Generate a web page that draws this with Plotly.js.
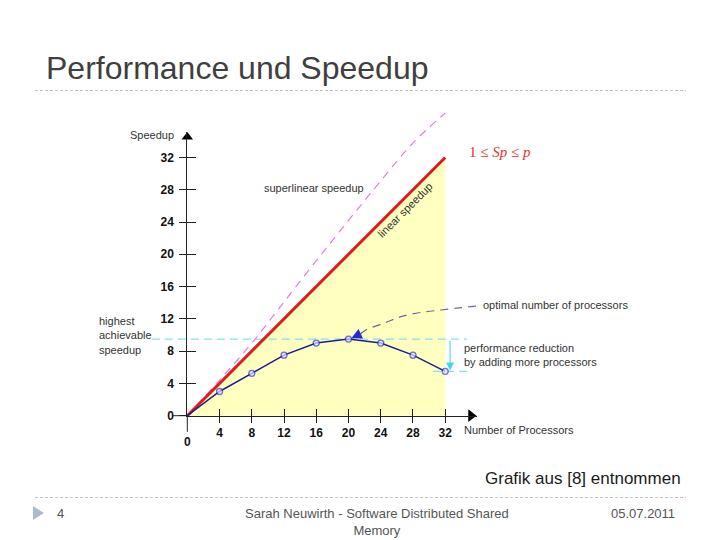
<!DOCTYPE html>
<html>
<head>
<meta charset="utf-8">
<script src="https://cdn.plot.ly/plotly-3.0.1.min.js"></script>
<style>html,body{margin:0;padding:0;background:#fff;}#chart{width:720px;height:540px;}</style>
</head>
<body>
<div id="chart"></div>
<script>
// ---- data ----
const processors = [0, 4, 8, 12, 16, 20, 24, 28, 32];
const speedup = [0, 3.0, 5.25, 7.5, 9.0, 9.5, 9.0, 7.5, 5.5];
const linearX = [0, 32];
const linearY = [0, 32];
const superX = [0, 4, 8, 12, 16, 20, 24, 28, 32];
const superY = [0, 4.4, 9.0, 14.1, 19.2, 24.2, 29.1, 33.8, 37.5];
const optimalX = [21.5, 22.1, 24.5, 26.6, 29.0, 31.5, 34.0, 36.0];
const optimalY = [10.15, 10.6, 11.5, 12.3, 12.8, 13.1, 13.4, 13.6];
const highestSpeedup = 9.5;
const reducedSpeedup = 5.5;
const xTicks = [4, 8, 12, 16, 20, 24, 28, 32];
const yTicks = [0, 4, 8, 12, 16, 20, 24, 28, 32];

// ---- geometry (pixels) ----
const W = 720, H = 540;
const X0 = 187.3, SX = 8.06, Y0 = 415.7, SY = 8.07;
const XMAX = 35.9, YMAX = 35.2;
const px = v => v / W, py = v => 1 - v / H;

const tickFont = {family: 'Liberation Sans, Arial', size: 12, color: '#111', weight: 'bold'};
const labFont = {family: 'Liberation Sans, Arial', size: 11, color: '#333'};

const traces = [
  {x: [0, linearX[1], linearX[1]], y: [0, linearY[1], 0], fill: 'toself', fillcolor: '#ffffc0',
   mode: 'lines', line: {width: 0}, hoverinfo: 'skip', xaxis: 'x', yaxis: 'y'},
  {x: [-4.4, 34.7], y: [highestSpeedup, highestSpeedup], mode: 'lines',
   line: {color: '#7fe3ee', width: 1.3, dash: '8px,5px'}, hoverinfo: 'skip'},
  {x: [30.5, 34.7], y: [reducedSpeedup, reducedSpeedup], mode: 'lines',
   line: {color: '#7fe3ee', width: 1.3, dash: '8px,5px'}, hoverinfo: 'skip'},
  {x: superX, y: superY, mode: 'lines', line: {color: '#e07ce8', width: 1.2, dash: '8px,6px', shape: 'spline'}, hoverinfo: 'skip'},
  {x: linearX, y: linearY, mode: 'lines', line: {color: '#e01a1a', width: 3}, hoverinfo: 'skip'},
  {x: optimalX, y: optimalY, mode: 'lines', line: {color: '#6a6a9a', width: 1.2, dash: '8px,6px', shape: 'spline'}, hoverinfo: 'skip'},
  {x: processors, y: speedup, mode: 'lines+markers', line: {color: '#1c1c96', width: 1.5},
   marker: {size: processors.map(p => p === 0 ? 0 : 6), color: '#e4e4ff', line: {color: '#3030e0', width: 1.3}},
   hoverinfo: 'skip'},
  // axis arrowheads
  {x: [XMAX - 0.7], y: [0], mode: 'markers', marker: {symbol: 'triangle-right', size: 11, color: '#000'}, hoverinfo: 'skip'},
  {x: [0], y: [YMAX - 0.65], mode: 'markers', marker: {symbol: 'triangle-up', size: 10, color: '#000'}, hoverinfo: 'skip'},
  // anchors for tick axes
  {x: [1], y: [1], mode: 'markers', marker: {opacity: 0}, xaxis: 'x2', yaxis: 'y2', hoverinfo: 'skip'},
  {x: [1], y: [1], mode: 'markers', marker: {opacity: 0}, xaxis: 'x3', yaxis: 'y2', hoverinfo: 'skip'},
  {x: [1], y: [1], mode: 'markers', marker: {opacity: 0}, xaxis: 'x2', yaxis: 'y3', hoverinfo: 'skip'}
];

const x2dom = [px(X0), px(X0 + XMAX * SX)];
const y2dom = [1 - Y0 / H, 1 - (Y0 - YMAX * SY) / H];

const ann = [];
function A(o) { ann.push(Object.assign({showarrow: false, font: labFont, xanchor: 'center', yanchor: 'middle'}, o)); }

// slide title
A({xref: 'paper', yref: 'paper', x: px(44), y: py(68), xanchor: 'left',
   text: 'Performance und Speedup', font: {family: 'Liberation Sans, Arial', size: 32, color: '#3f3f3f'}});
// chart labels
A({xref: 'paper', yref: 'paper', x: px(152), y: py(135), text: 'Speedup', font: labFont});
A({xref: 'x', yref: 'y', x: (313.7 - X0) / SX, y: (Y0 - 187.7) / SY, text: 'superlinear speedup'});
A({xref: 'x', yref: 'y', x: (405 - X0) / SX, y: (Y0 - 210) / SY, text: 'linear speedup', textangle: -45});
A({xref: 'x', yref: 'y', x: (499.5 - X0) / SX, y: (Y0 - 152) / SY,
   text: '1 ≤ <i>Sp</i> ≤ <i>p</i>', font: {family: 'Liberation Serif, Times New Roman', size: 15, color: '#dd3333'}});
A({xref: 'paper', yref: 'paper', x: px(97), y: py(335.5), xanchor: 'left', align: 'left',
   text: 'highest<br>achievable<br>speedup'});
A({xref: 'x', yref: 'y', x: (481 - X0) / SX, y: (Y0 - 305) / SY, xanchor: 'left', text: 'optimal number of processors'});
A({xref: 'x', yref: 'y', x: (461.7 - X0) / SX, y: (Y0 - 354.5) / SY, xanchor: 'left', align: 'left',
   text: 'performance reduction<br>by adding more processors'});
A({xref: 'x', yref: 'y', x: (461.7 - X0) / SX, y: (Y0 - 430) / SY, xanchor: 'left', text: 'Number of Processors'});
A({xref: 'x', yref: 'y', x: 0, y: (Y0 - 441.7) / SY, text: '0', font: tickFont});
// arrows
ann.push({xref: 'x', yref: 'y', axref: 'x', ayref: 'y', x: 20.35, y: 9.6, ax: 21.6, ay: 10.2, text: '',
  showarrow: true, arrowhead: 2, arrowsize: 1.4, arrowwidth: 1.5, arrowcolor: '#2a2ad0'});
ann.push({xref: 'x', yref: 'y', axref: 'x', ayref: 'y', x: 32.6, y: reducedSpeedup + 0.1, ax: 32.6, ay: highestSpeedup, text: '',
  showarrow: true, arrowhead: 2, arrowsize: 1.6, arrowwidth: 1, arrowcolor: '#40d8e8'});
// source + footer
A({xref: 'paper', yref: 'paper', x: px(683), y: py(478), xanchor: 'right',
   text: 'Grafik aus [8] entnommen', font: {family: 'Liberation Sans, Arial', size: 17, color: '#1a1a1a'}});
const footFont = {family: 'Liberation Sans, Arial', size: 13, color: '#555'};
A({xref: 'paper', yref: 'paper', x: px(55), y: py(513), xanchor: 'left', text: '4', font: footFont});
A({xref: 'paper', yref: 'paper', x: px(377), y: py(521.5), text: 'Sarah Neuwirth - Software Distributed Shared<br>Memory', font: footFont});
A({xref: 'paper', yref: 'paper', x: px(677), y: py(513), xanchor: 'right', text: '05.07.2011', font: footFont});

const shapes = [
  {type: 'line', xref: 'paper', yref: 'paper', x0: px(35), x1: px(686), y0: py(90.5), y1: py(90.5),
   line: {color: '#c4c4c4', width: 1, dash: '3px,2px'}},
  {type: 'line', xref: 'paper', yref: 'paper', x0: px(35), x1: px(686), y0: py(497.5), y1: py(497.5),
   line: {color: '#c4c4c4', width: 1, dash: '3px,2px'}},
  {type: 'path', xref: 'paper', yref: 'paper',
   path: `M ${px(33)} ${py(506)} L ${px(44)} ${py(513)} L ${px(33)} ${py(520)} Z`,
   fillcolor: '#a9bbcf', line: {width: 0}},
  {type: 'line', xref: 'x', yref: 'y', x0: -1.8, x1: 0, y0: 0, y1: 0, line: {color: '#222', width: 1}},
  {type: 'line', xref: 'x', yref: 'y', x0: 0, x1: 0, y0: 0, y1: -2.0, line: {color: '#222', width: 1}}
];

const layout = {
  width: W, height: H, margin: {l: 0, r: 0, t: 0, b: 0},
  paper_bgcolor: '#fff', plot_bgcolor: 'rgba(0,0,0,0)', showlegend: false,
  font: {family: 'Liberation Sans, Arial', color: '#333'},
  xaxis: {domain: [0, 1], range: [-X0 / SX, (W - X0) / SX], visible: false, fixedrange: true},
  yaxis: {domain: [0, 1], range: [(Y0 - H) / SY, Y0 / SY], visible: false, fixedrange: true},
  xaxis2: {domain: x2dom, range: [0, XMAX], anchor: 'y2', showline: true, linecolor: '#222', linewidth: 1,
    ticks: 'outside', ticklen: 6, tickcolor: '#222', tickvals: xTicks, ticktext: xTicks.map(String),
    tickfont: tickFont, showgrid: false, zeroline: false, fixedrange: true},
  xaxis3: {domain: x2dom, range: [0, XMAX], anchor: 'y2', overlaying: 'x2', ticks: 'inside', ticklen: 7,
    tickcolor: '#222', tickvals: xTicks, showticklabels: false, showgrid: false, zeroline: false, showline: false},
  yaxis2: {domain: y2dom, range: [0, YMAX], anchor: 'x2', showline: true, linecolor: '#222', linewidth: 1,
    ticks: 'outside', ticklen: 7, tickcolor: '#222', tickvals: yTicks, ticktext: yTicks.map(String),
    tickfont: tickFont, showgrid: false, zeroline: false, fixedrange: true, ticklabelstandoff: 3},
  yaxis3: {domain: y2dom, range: [0, YMAX], anchor: 'x2', overlaying: 'y2', ticks: 'inside', ticklen: 9,
    tickcolor: '#222', tickvals: yTicks.slice(1), showticklabels: false, showgrid: false, zeroline: false, showline: false},
  annotations: ann, shapes: shapes
};

Plotly.newPlot('chart', traces, layout, {staticPlot: true, displayModeBar: false});
</script>
</body>
</html>
